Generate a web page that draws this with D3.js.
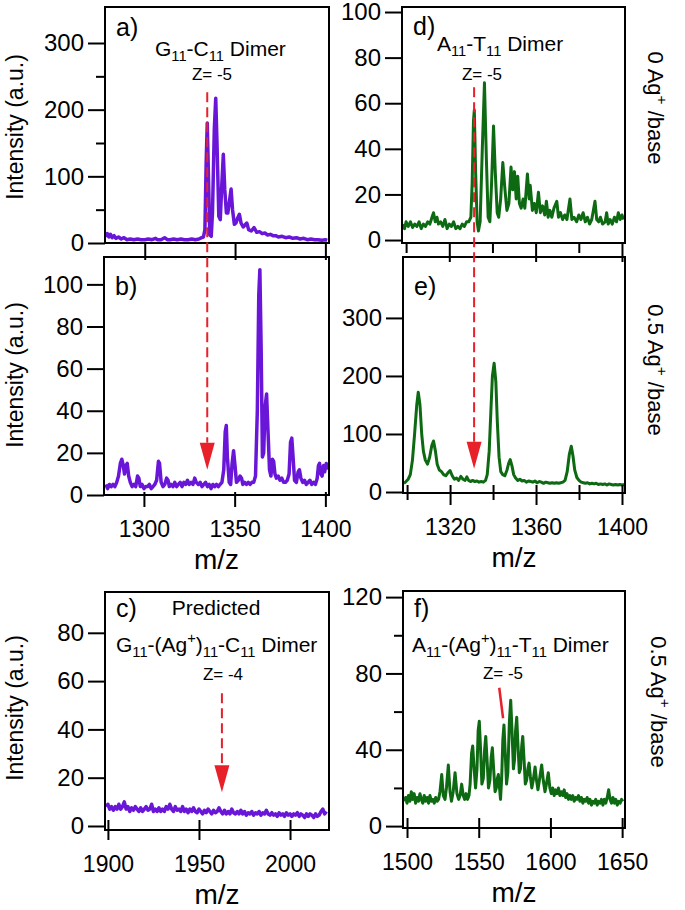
<!DOCTYPE html>
<html>
<head>
<meta charset="utf-8">
<script src="https://cdn.jsdelivr.net/npm/d3@7/dist/d3.min.js"></script>
<style>
  body { margin: 0; background: #fff; }
  text { font-family: "Liberation Sans", Arial, sans-serif; fill: #000; }
</style>
</head>
<body>
<svg id="chart" width="685" height="910"></svg>
<script>

// ---- spectra, [m/z, intensity] ----
var specA = [
  [1278.5, 9], [1279.3, 14], [1280.2, 9], [1281, 13], [1282, 8], [1283, 11], [1284, 7], [1285.5, 9],
  [1287, 6], [1288.5, 8], [1290, 5], [1292, 6], [1294, 5], [1296, 6], [1298, 5], [1300, 5],
  [1302, 6], [1304, 5], [1306, 7], [1307, 5], [1309, 5], [1311, 8], [1312.5, 5], [1314, 5],
  [1316, 6], [1318, 5], [1320, 6], [1322, 5], [1324, 5], [1326, 6], [1328, 5], [1330, 6],
  [1331.5, 8], [1332.5, 9], [1333.3, 20], [1334, 120], [1334.6, 180], [1335.2, 110], [1336, 12],
  [1336.8, 10], [1337.5, 45], [1338.5, 170], [1339.3, 217], [1340, 150], [1341, 40], [1341.8, 35],
  [1342.7, 90], [1343.5, 133], [1344.3, 80], [1345.2, 45], [1346, 45], [1347, 65], [1347.8, 81],
  [1348.6, 50], [1349.6, 28], [1350.5, 30], [1351.5, 38], [1352.4, 43], [1353.3, 30], [1354.5, 24],
  [1355.5, 27], [1356.5, 30], [1357.5, 20], [1359, 18], [1360.5, 23], [1362, 16], [1363.5, 17],
  [1365, 14], [1366.5, 15], [1368, 12], [1369.5, 13], [1371, 11], [1372.5, 11], [1374, 9],
  [1376, 10], [1378, 8], [1380, 9], [1382, 7], [1384, 8], [1386, 6], [1388, 7], [1390, 5],
  [1392, 6], [1394, 5], [1396, 5], [1398, 4], [1400, 5], [1401, 4]
];

var specB = [
  [1279, 5], [1280, 3], [1281, 5], [1282, 4], [1283, 5], [1284, 4], [1285, 6], [1286, 9],
  [1287, 15], [1287.8, 17], [1288.6, 14], [1289.3, 10], [1290, 14], [1290.8, 15], [1291.6, 9],
  [1292.5, 6], [1293.5, 4], [1294.5, 5], [1295.5, 4], [1296.5, 9], [1297.2, 8], [1298, 4],
  [1299, 5], [1300, 3], [1301, 4], [1302, 4], [1303, 5], [1304, 3], [1305, 4], [1306, 5],
  [1307, 7], [1308, 16], [1308.6, 15], [1309.5, 6], [1310.5, 4], [1311.5, 5], [1312.5, 8],
  [1313.3, 7], [1314, 4], [1315, 5], [1316, 4], [1317, 6], [1318, 4], [1319, 5], [1320, 6],
  [1321, 4], [1322, 6], [1323, 5], [1324, 7], [1325, 5], [1326, 6], [1327, 5], [1328, 8],
  [1328.8, 6], [1330, 5], [1331, 6], [1332, 4], [1333, 5], [1334, 6], [1335, 4], [1336, 5],
  [1337, 3], [1338, 5], [1339, 4], [1340, 5], [1341, 4], [1342, 5], [1343, 6], [1344, 12],
  [1344.8, 30], [1345.4, 33], [1346, 18], [1347, 6], [1347.8, 5], [1348.6, 15], [1349.4, 21],
  [1350.2, 14], [1351, 6], [1352, 7], [1353, 9], [1353.8, 8], [1354.5, 5], [1355.5, 6],
  [1356.5, 5], [1357.5, 6], [1358.5, 5], [1359.5, 6], [1360.5, 6], [1361.5, 9], [1362.5, 40],
  [1363.3, 95], [1363.9, 107], [1364.6, 70], [1365.3, 18], [1366, 20], [1366.8, 42], [1367.6, 48],
  [1368.4, 30], [1369.2, 12], [1370, 9], [1370.8, 17], [1371.5, 16], [1372.2, 10], [1373, 8],
  [1374, 9], [1375, 7], [1376, 8], [1377, 6], [1378, 6], [1379, 7], [1380, 10], [1380.8, 25],
  [1381.5, 27], [1382.2, 18], [1383, 7], [1384, 6], [1385, 11], [1385.7, 12], [1386.5, 8],
  [1387.5, 6], [1388.5, 7], [1389.5, 5], [1390.5, 6], [1391.5, 7], [1392.5, 5], [1393.5, 6],
  [1394.5, 5], [1395.5, 8], [1396.2, 14], [1396.8, 15], [1397.5, 10], [1398.2, 9], [1399, 14],
  [1399.6, 11], [1400.5, 15], [1401.2, 12]
];

var specC = [
  [1899, 8], [1900, 9], [1901, 7], [1902, 8], [1903, 6.5], [1904, 8], [1905, 7], [1906, 9],
  [1907, 7], [1908, 8], [1909, 10], [1910, 7], [1911, 8], [1912, 6], [1913, 7.5], [1914, 6.5],
  [1915, 8], [1916, 7], [1917, 6], [1918, 7.5], [1919, 6], [1920, 7], [1921, 8], [1922, 6.5],
  [1923, 7], [1924, 9], [1925, 6], [1926, 7], [1927, 6], [1928, 7.5], [1929, 6], [1930, 7],
  [1931, 6], [1932, 8], [1933, 7], [1934, 9], [1935, 7], [1936, 6], [1937, 8], [1938, 6.5],
  [1939, 7], [1940, 6], [1941, 8], [1942, 6], [1943, 7], [1944, 5.5], [1945, 7], [1946, 6],
  [1947, 7.5], [1948, 6], [1949, 5.5], [1950, 7], [1951, 6], [1952, 5], [1953, 6.5], [1954, 5.5],
  [1955, 7], [1956, 6], [1957, 5], [1958, 6.5], [1959, 5.5], [1960, 6], [1961, 7.5], [1962, 6],
  [1963, 5], [1964, 6.5], [1965, 5], [1966, 6], [1967, 5], [1968, 7], [1969, 5.5], [1970, 5],
  [1971, 6], [1972, 5], [1973, 6.5], [1974, 5], [1975, 6], [1976, 4.5], [1977, 5.5], [1978, 5],
  [1979, 6], [1980, 4.5], [1981, 5.5], [1982, 5], [1983, 6], [1984, 4.5], [1985, 5.5], [1986, 5],
  [1987, 6.5], [1988, 5], [1989, 4.5], [1990, 5.5], [1991, 4.5], [1992, 5], [1993, 4], [1994, 5.5],
  [1995, 4.5], [1996, 5], [1997, 4], [1998, 5.5], [1999, 4.5], [2000, 5], [2001, 4], [2002, 5],
  [2003, 4.5], [2004, 5.5], [2005, 4], [2006, 5], [2007, 4.5], [2008, 3.5], [2009, 5], [2010, 4],
  [2011, 5], [2012, 4.5], [2013, 3.5], [2014, 5], [2015, 4], [2016, 4.5], [2017, 6], [2018, 7],
  [2019, 5], [2020, 6]
];

var specD = [
  [1298.5, 7], [1299.3, 5], [1300, 8], [1301, 6], [1302, 8], [1303, 5.5], [1304, 7], [1305, 6],
  [1306, 8], [1307, 5], [1308, 7], [1309, 6], [1310, 8], [1311, 7], [1312, 10], [1312.7, 12],
  [1313.5, 8], [1314.3, 10], [1315, 7], [1316, 8], [1317, 6], [1318, 9], [1319, 5], [1320, 7],
  [1321, 6], [1322, 8], [1323, 5], [1324, 6], [1325, 5], [1326, 7], [1327, 6], [1328, 8],
  [1329, 8], [1330, 10], [1330.6, 25], [1331.2, 52], [1331.6, 57], [1332.2, 30], [1332.9, 8],
  [1333.5, 4], [1334.3, 8], [1335.3, 40], [1336.3, 69], [1337.2, 35], [1338, 10], [1338.8, 8],
  [1339.6, 25], [1340.5, 50], [1341.3, 30], [1342.2, 12], [1342.9, 10], [1343.8, 18], [1344.8, 34],
  [1345.8, 22], [1346.7, 13], [1347.6, 16], [1348.6, 32], [1349.4, 22], [1350.2, 30], [1351, 18],
  [1351.7, 28], [1352.5, 16], [1353.3, 14], [1354.2, 18], [1355, 14], [1356.2, 29], [1357, 18],
  [1357.5, 24], [1358.5, 13], [1359.4, 16], [1360.3, 12], [1361.3, 21], [1362.2, 12], [1363.2, 15],
  [1364.2, 11], [1365, 17], [1365.8, 10], [1366.6, 13], [1367.5, 10], [1368.5, 14], [1369.8, 17],
  [1370.6, 10], [1371.5, 12], [1372.5, 9], [1373.5, 11], [1374.5, 9], [1375.9, 18], [1376.8, 9],
  [1377.8, 10], [1379, 8], [1380, 11], [1381, 9], [1382, 12], [1383, 8], [1384, 10], [1385, 7],
  [1386, 9], [1387.5, 17], [1388.3, 9], [1389.2, 8], [1390, 10], [1391, 7], [1392.2, 8],
  [1392.9, 12], [1393.6, 7], [1394.5, 9], [1395.5, 7], [1396.5, 10], [1397.5, 8], [1398.3, 12],
  [1399.2, 9], [1400, 11], [1400.8, 9]
];

var specE = [
  [1298.5, 15], [1299.5, 18], [1300.5, 22], [1301.5, 30], [1302.5, 55], [1303.5, 100], [1304.5, 150],
  [1305.2, 172], [1306, 150], [1306.8, 100], [1307.6, 70], [1308.5, 55], [1309.5, 48], [1310.5, 60],
  [1311.5, 80], [1312.3, 88], [1313.2, 70], [1314, 48], [1315, 38], [1316, 35], [1317, 30],
  [1318, 28], [1319, 33], [1320, 37], [1321, 28], [1322, 22], [1323, 24], [1324, 20], [1325, 27],
  [1326, 22], [1327, 20], [1327.8, 26], [1328.6, 20], [1329.5, 18], [1330.5, 20], [1331.5, 18],
  [1332.5, 19], [1333.5, 17], [1334.5, 18], [1335.5, 17], [1336.5, 20], [1337.3, 30], [1338.2, 70],
  [1339, 140], [1339.7, 200], [1340.5, 222], [1341.3, 190], [1342, 120], [1342.8, 60], [1343.6, 35],
  [1344.5, 30], [1345.5, 28], [1346.5, 38], [1347.3, 50], [1348, 56], [1348.8, 45], [1349.6, 30],
  [1350.5, 24], [1351.5, 20], [1352.5, 22], [1353.5, 19], [1354.5, 20], [1355.5, 17], [1356.5, 19],
  [1357.5, 18], [1358.5, 17], [1359.5, 19], [1360.5, 16], [1361.5, 18], [1362.5, 17], [1363.5, 15],
  [1364.5, 17], [1365.5, 16], [1366.5, 15], [1367.5, 16], [1368.5, 15], [1369.5, 16], [1370.5, 15],
  [1371.5, 16], [1372.5, 17], [1373.5, 20], [1374.5, 35], [1375.5, 65], [1376.4, 79], [1377.2, 62],
  [1378, 38], [1379, 25], [1380, 20], [1381, 17], [1382, 16], [1383, 15], [1384, 16], [1385, 14],
  [1386, 15], [1387, 14], [1388, 15], [1389, 13], [1390, 14], [1391, 13], [1392, 14], [1393, 12],
  [1394, 14], [1395, 13], [1396, 12], [1397, 13], [1398, 12], [1399, 13], [1400, 12], [1401, 13]
];

var specF = [
  [1498, 13], [1499, 15], [1500, 12], [1501, 16], [1502, 13], [1503, 18], [1504, 14], [1505, 17],
  [1506, 12], [1507, 15], [1508, 13], [1509, 17], [1510, 14], [1511, 12], [1512, 16], [1513, 13],
  [1514, 15], [1515, 12], [1516, 16], [1517, 13], [1518, 14], [1519, 12], [1520, 15], [1521, 13],
  [1522, 14], [1523, 18], [1524.2, 27], [1525.3, 16], [1526.5, 14], [1527.5, 20], [1528.8, 32],
  [1530, 18], [1531, 13], [1532.2, 18], [1533.5, 28], [1534.8, 17], [1536, 14], [1537, 16],
  [1538.1, 22], [1539.2, 16], [1540.2, 14], [1541.2, 17], [1542.2, 14], [1543.2, 16], [1544, 22],
  [1545, 38], [1545.8, 42], [1546.8, 30], [1547.8, 20], [1548.8, 30], [1549.6, 50], [1550.4, 55],
  [1551.3, 40], [1552.2, 22], [1553.2, 25], [1554.1, 40], [1554.9, 47], [1555.8, 35], [1556.8, 20],
  [1557.8, 24], [1558.7, 36], [1559.5, 41], [1560.4, 30], [1561.4, 18], [1562.3, 20], [1563, 25],
  [1563.7, 27], [1564.5, 20], [1565.2, 14], [1566, 25], [1566.8, 45], [1567.6, 53], [1568.5, 38],
  [1569.4, 22], [1570.3, 28], [1571.4, 55], [1572.3, 66], [1573.2, 50], [1574.2, 30], [1575, 35],
  [1575.7, 50], [1576.5, 57], [1577.4, 42], [1578.3, 28], [1579.1, 30], [1580, 42], [1580.7, 47],
  [1581.6, 35], [1582.5, 22], [1583.4, 24], [1584.3, 30], [1585.1, 33], [1586, 26], [1587, 20],
  [1588, 24], [1589.3, 31], [1590.3, 24], [1591.3, 19], [1592.3, 24], [1593.9, 32], [1595, 24],
  [1596.2, 18], [1597.2, 22], [1598.5, 28], [1599.6, 20], [1600.6, 17], [1601.6, 20], [1602.6, 16],
  [1603.6, 19], [1604.6, 17], [1605.6, 20], [1606.6, 16], [1607.6, 18], [1608.6, 16], [1609.6, 19],
  [1610.6, 15], [1611.6, 17], [1612.6, 14], [1613.6, 16], [1614.6, 14], [1615.6, 16], [1616.6, 13],
  [1617.6, 15], [1618.6, 14], [1619.6, 16], [1620.6, 13], [1621.6, 15], [1622.6, 12], [1623.6, 14],
  [1624.6, 13], [1625.6, 15], [1626.6, 12], [1627.6, 14], [1628.6, 11], [1629.6, 13], [1630.6, 12],
  [1631.6, 14], [1632.6, 11], [1633.6, 13], [1634.6, 12], [1635.6, 14], [1636.6, 11], [1637.6, 14],
  [1638.6, 12], [1639.6, 15], [1640.6, 19], [1641.6, 14], [1642.6, 12], [1643.6, 15], [1644.6, 12],
  [1645.6, 14], [1646.6, 11], [1647.6, 13], [1648.6, 12], [1649.6, 14], [1650.5, 13]
];

// ---- tick values ----
var ticksYa = [0, 100, 200, 300], minorYa = [50, 150, 250];
var ticksYb = [0, 20, 40, 60, 80, 100];
var ticksYc = [0, 20, 40, 60, 80];
var ticksYd = [0, 20, 40, 60, 80, 100];
var ticksYe = [0, 100, 200, 300];
var ticksYf = [0, 40, 80, 120], minorYf = [20, 60, 100];
var ticksXab = [1300, 1350, 1400];
var ticksXc = [1900, 1950, 2000];
var ticksXde = [1320, 1360, 1400], minorXde = [1300, 1340, 1380];
var ticksXf = [1500, 1550, 1600, 1650];

// ---- marker positions (m/z, intensity) ----
var markA = { mz: 1334.6, from: 226, to: 12 };   // dashed a -> arrow in b
var markD = { mz: 1331.5, from: 67, to: 40 };    // dashed d -> arrow in e
var markC = { mz: 1962.6, from: 55, to: 14 };
var markF = { mz: [1564.3, 1567.0], val: [72.5, 56.5] };

var purple = "#6a16d8";
var green = "#0e6a12";
var red = "#e8202a";

var svg = d3.select("#chart");
svg.append("rect").attr("width", 685).attr("height", 910).attr("fill", "#fff");

function drawPanel(p) {
    var x = d3.scaleLinear().domain(p.xDomain).range([p.left, p.right]);
    var y = d3.scaleLinear().domain(p.yDomain).range([p.bottom, p.top]);
    var g = svg.append("g");

    g.append("clipPath")
      .attr("id", "clip-" + p.name)
      .append("rect")
      .attr("x", p.left).attr("y", p.top)
      .attr("width", p.right - p.left).attr("height", p.bottom - p.top);

    g.append("path")
      .datum(p.data)
      .attr("clip-path", "url(#clip-" + p.name + ")")
      .attr("fill", "none")
      .attr("stroke", p.color)
      .attr("stroke-width", p.lineWidth)
      .attr("stroke-linejoin", "round")
      .attr("d", d3.line().x(function(d) { return x(d[0]); }).y(function(d) { return y(d[1]); }));

    // y axis
    var ya = g.append("g")
      .attr("transform", "translate(" + p.left + ",0)")
      .call(d3.axisLeft(y).tickValues(p.yTicks).tickSize(17).tickPadding(4).tickFormat(d3.format("d")));
    if (p.yMinor) {
        ya.append("g").call(d3.axisLeft(y).tickValues(p.yMinor).tickSize(9).tickFormat(""));
    }
    ya.selectAll("text").style("font-size", "24px");

    // x axis
    var xa = g.append("g")
      .attr("transform", "translate(0," + p.bottom + ")")
      .call(d3.axisBottom(x).tickValues(p.xTicks).tickSize(p.xTickOut).tickFormat(d3.format("d")));
    if (p.xMinor) {
        xa.append("g").call(d3.axisBottom(x).tickValues(p.xMinor).tickSize(p.xMinorOut).tickFormat(""));
    }
    xa.selectAll(".tick line").attr("y1", -p.xTickIn);
    xa.selectAll(".tick text")
      .attr("y", 42)
      .attr("dy", null)
      .style("font-size", "23px")
      .style("display", p.xLabels ? null : "none");

    [ya, xa].forEach(function(a) {
        a.selectAll(".domain").remove();
        a.selectAll("line").attr("stroke", "#000").attr("stroke-width", 2);
        a.selectAll("text")
          .attr("fill", "#000")
          .style("font-family", "'Liberation Sans', Arial, sans-serif");
    });

    g.append("rect")
      .attr("x", p.left).attr("y", p.top)
      .attr("width", p.right - p.left).attr("height", p.bottom - p.top)
      .attr("fill", "none")
      .attr("stroke", "#000")
      .attr("stroke-width", 2);

    g.append("text")
      .attr("x", p.left + 11)
      .attr("y", p.labelY)
      .style("font-size", "25px")
      .text(p.name + ")");

    if (p.xLabels) {
        g.append("text")
          .attr("x", (p.left + p.right) / 2)
          .attr("y", p.bottom + 74)
          .attr("text-anchor", "middle")
          .style("font-size", "28px")
          .text("m/z");
    }
    return { x: x, y: y };
}

// text with sub/superscripts: parts = [[string, "sub"|"sup"|""], ...]
function richText(x, y, parts, size, anchor) {
    var t = svg.append("text")
      .attr("x", x).attr("y", y)
      .attr("text-anchor", anchor || "start")
      .style("font-size", size + "px");
    var shift = 0;
    parts.forEach(function(pt) {
        var s = pt[1] === "sub" ? size * 0.25 : pt[1] === "sup" ? -size * 0.42 : 0;
        t.append("tspan")
          .attr("dy", s - shift)
          .style("font-size", pt[1] ? (size * 0.7) + "px" : null)
          .text(pt[0]);
        shift = s;
    });
    return t;
}

function vertLabel(x, y, angle, parts, size) {
    var t = richText(0, 0, parts, size, "middle");
    t.attr("transform", "translate(" + x + "," + y + ") rotate(" + angle + ")");
}

var sA = drawPanel({ name: "a", data: specA, color: purple, lineWidth: 3.5,
    left: 105, right: 329, top: 7, bottom: 243, labelY: 36,
    xDomain: [1278, 1402], yDomain: [0, 354],
    yTicks: ticksYa, yMinor: minorYa, xTicks: ticksXab,
    xTickIn: 0, xTickOut: 17, xLabels: false });

var sB = drawPanel({ name: "b", data: specB, color: purple, lineWidth: 3.5,
    left: 104, right: 329, top: 257, bottom: 495, labelY: 295,
    xDomain: [1278, 1402], yDomain: [0, 113],
    yTicks: ticksYb, xTicks: ticksXab,
    xTickIn: 3, xTickOut: 12, xLabels: true });

var sC = drawPanel({ name: "c", data: specC, color: purple, lineWidth: 3.5,
    left: 105, right: 329, top: 592, bottom: 830, labelY: 617,
    xDomain: [1898.4, 2021.4], yDomain: [-1.66, 96.9],
    yTicks: ticksYc, xTicks: ticksXc,
    xTickIn: 10, xTickOut: 10, xLabels: true });

var sD = drawPanel({ name: "d", data: specD, color: green, lineWidth: 3,
    left: 402, right: 625, top: 7, bottom: 243, labelY: 35,
    xDomain: [1298.1, 1401.4], yDomain: [-1.3, 102.2],
    yTicks: ticksYd, xTicks: ticksXde, xMinor: minorXde,
    xTickIn: 0, xTickOut: 19, xMinorOut: 10, xLabels: false });

var sE = drawPanel({ name: "e", data: specE, color: green, lineWidth: 3,
    left: 403, right: 625, top: 257, bottom: 493, labelY: 295,
    xDomain: [1298.1, 1401.4], yDomain: [-1.7, 405],
    yTicks: ticksYe, xTicks: ticksXde, xMinor: minorXde,
    xTickIn: 8, xTickOut: 12, xMinorOut: 7, xLabels: true });

var sF = drawPanel({ name: "f", data: specF, color: green, lineWidth: 3,
    left: 403, right: 625, top: 591, bottom: 828, labelY: 617,
    xDomain: [1497.2, 1652], yDomain: [-1, 123.2],
    yTicks: ticksYf, yMinor: minorYf, xTicks: ticksXf,
    xTickIn: 10, xTickOut: 10, xLabels: true });

// titles
richText(155, 56, [["G", ""], ["11", "sub"], ["-C", ""], ["11", "sub"], [" Dimer", ""]], 21);
richText(212, 80, [["Z= -5", ""]], 17, "middle");
richText(437, 51, [["A", ""], ["11", "sub"], ["-T", ""], ["11", "sub"], [" Dimer", ""]], 21);
richText(482, 80, [["Z= -5", ""]], 17, "middle");
richText(216, 615, [["Predicted", ""]], 21, "middle");
richText(116, 652, [["G", ""], ["11", "sub"], ["-(Ag", ""], ["+", "sup"], [")", ""], ["11", "sub"],
    ["-C", ""], ["11", "sub"], [" Dimer", ""]], 21);
richText(223, 680, [["Z= -4", ""]], 17, "middle");
richText(412, 652, [["A", ""], ["11", "sub"], ["-(Ag", ""], ["+", "sup"], [")", ""], ["11", "sub"],
    ["-T", ""], ["11", "sub"], [" Dimer", ""]], 21);
richText(503, 679, [["Z= -5", ""]], 17, "middle");

// side labels
vertLabel(23, 127, -90, [["Intensity (a.u.)", ""]], 23);
vertLabel(23, 375, -90, [["Intensity (a.u.)", ""]], 23);
vertLabel(23, 708, -90, [["Intensity (a.u.)", ""]], 23);
vertLabel(648, 108, 90, [["0 Ag", ""], ["+", "sup"], [" /base", ""]], 22);
vertLabel(648, 370, 90, [["0.5 Ag", ""], ["+", "sup"], [" /base", ""]], 22);
vertLabel(651, 702, 90, [["0.5 Ag", ""], ["+", "sup"], [" /base", ""]], 22);

// red markers
function dashedArrow(x, y0, tip) {
    var head = 27;
    svg.append("line")
      .attr("x1", x).attr("x2", x)
      .attr("y1", y0).attr("y2", tip - head)
      .attr("stroke", red)
      .attr("stroke-width", 2)
      .attr("stroke-dasharray", "10,5");
    svg.append("path")
      .attr("d", "M" + (x - 7.5) + "," + (tip - head) + "L" + (x + 7.5) + "," + (tip - head) + "L" + x + "," + tip + "Z")
      .attr("fill", red);
}

dashedArrow(sA.x(markA.mz), sA.y(markA.from), sB.y(markA.to));
dashedArrow(sD.x(markD.mz), sD.y(markD.from), sE.y(markD.to));
dashedArrow(sC.x(markC.mz), sC.y(markC.from), sC.y(markC.to));

svg.append("line")
  .attr("x1", sF.x(markF.mz[0])).attr("y1", sF.y(markF.val[0]))
  .attr("x2", sF.x(markF.mz[1])).attr("y2", sF.y(markF.val[1]))
  .attr("stroke", red)
  .attr("stroke-width", 2.5);

</script>
</body>
</html>
